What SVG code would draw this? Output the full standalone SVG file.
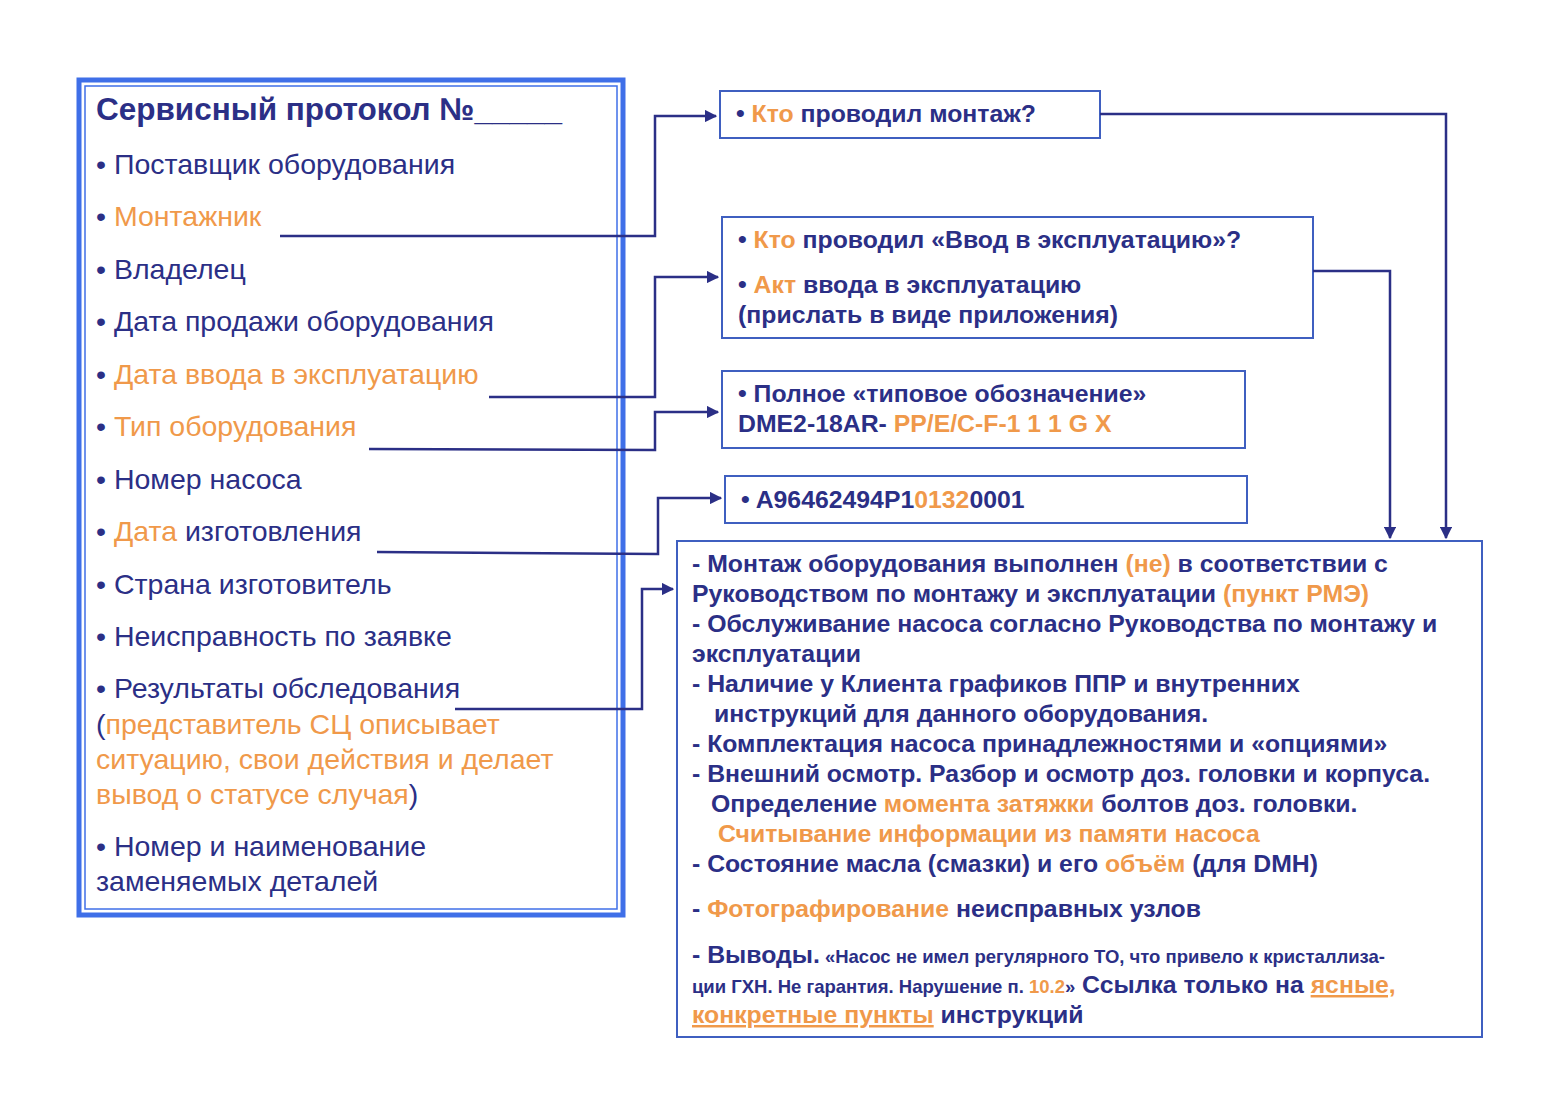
<svg xmlns="http://www.w3.org/2000/svg" width="1550" height="1100" viewBox="0 0 1550 1100">
<defs>
<style>
.t{font-family:"Liberation Sans",Arial,sans-serif;fill:#2b2f86}
.l{font-size:28.5px}
.b{font-size:24.8px;font-weight:bold}
.o{fill:#f0994a}
.box{fill:#fff;stroke:#3f5fc0;stroke-width:2}
.c{fill:none;stroke:#2b2f86;stroke-width:2.5}
</style>
<marker id="a" viewBox="0 0 10 10" refX="9" refY="5" markerWidth="5" markerHeight="5" orient="auto"><path d="M0,0L10,5L0,10z" fill="#2b2f86"/></marker>
</defs>
<rect width="1550" height="1100" fill="#fff"/>
<g id="protocol">
<rect x="79" y="80" width="544" height="835" fill="none" stroke="#3f6fe8" stroke-width="5"/>
<rect x="85" y="86" width="532" height="823" fill="none" stroke="#3f6fe8" stroke-width="1.5"/>
<text class="t" x="96" y="120" font-size="31.5" font-weight="bold">Сервисный протокол №_____</text>
<text class="t l" x="96" y="174">• Поставщик оборудования</text>
<text class="t l" x="96" y="226">• <tspan class="o">Монтажник</tspan></text>
<text class="t l" x="96" y="279">• Владелец</text>
<text class="t l" x="96" y="331">• Дата продажи оборудования</text>
<text class="t l" x="96" y="384">• <tspan class="o">Дата ввода в эксплуатацию</tspan></text>
<text class="t l" x="96" y="436">• <tspan class="o">Тип оборудования</tspan></text>
<text class="t l" x="96" y="489">• Номер насоса</text>
<text class="t l" x="96" y="541">• <tspan class="o">Дата</tspan> изготовления</text>
<text class="t l" x="96" y="594">• Страна изготовитель</text>
<text class="t l" x="96" y="646">• Неисправность по заявке</text>
<text class="t l" x="96" y="698">• Результаты обследования</text>
<text class="t l" x="96" y="734">(<tspan class="o">представитель СЦ описывает</tspan></text>
<text class="t l o" x="96" y="769">ситуацию, свои действия и делает</text>
<text class="t l" x="96" y="804"><tspan class="o">вывод о статусе случая</tspan>)</text>
<text class="t l" x="96" y="856">• Номер и наименование</text>
<text class="t l" x="96" y="891">заменяемых деталей</text>
</g>
<g id="q1"><rect class="box" x="720" y="91" width="380" height="47"/>
<text class="t b" x="736" y="122">• <tspan class="o">Кто</tspan> проводил монтаж?</text></g>
<g id="q2"><rect class="box" x="722" y="217" width="591" height="121"/>
<text class="t b" x="738" y="248">• <tspan class="o">Кто</tspan> проводил «Ввод в эксплуатацию»?</text>
<text class="t b" x="738" y="293">• <tspan class="o">Акт</tspan> ввода в эксплуатацию</text>
<text class="t b" x="738" y="323">(прислать в виде приложения)</text></g>
<g id="q3"><rect class="box" x="722" y="371" width="523" height="77"/>
<text class="t b" x="738" y="402">• Полное «типовое обозначение»</text>
<text class="t b" x="738" y="432">DME2-18AR- <tspan class="o">PP/E/C-F-1 1 1 G X</tspan></text></g>
<g id="q4"><rect class="box" x="725" y="476" width="522" height="47"/>
<text class="t b" x="741" y="508">• A96462494P1<tspan class="o">0132</tspan>0001</text></g>
<g id="results"><rect class="box" x="677" y="541" width="805" height="496"/>
<text class="t b" x="692" y="572">- Монтаж оборудования выполнен <tspan class="o">(не)</tspan> в соответствии с</text>
<text class="t b" x="692" y="602">Руководством по монтажу и эксплуатации <tspan class="o">(пункт РМЭ)</tspan></text>
<text class="t b" x="692" y="632">- Обслуживание насоса согласно Руководства по монтажу и</text>
<text class="t b" x="692" y="662">эксплуатации</text>
<text class="t b" x="692" y="692">- Наличие у Клиента графиков ППР и внутренних</text>
<text class="t b" x="714" y="722">инструкций для данного оборудования.</text>
<text class="t b" x="692" y="752">- Комплектация насоса принадлежностями и «опциями»</text>
<text class="t b" x="692" y="782">- Внешний осмотр. Разбор и осмотр доз. головки и корпуса.</text>
<text class="t b" x="711" y="812">Определение <tspan class="o">момента затяжки</tspan> болтов доз. головки.</text>
<text class="t b o" x="718" y="842">Считывание информации из памяти насоса</text>
<text class="t b" x="692" y="872">- Состояние масла (смазки) и его <tspan class="o">объём</tspan> (для DMH)</text>
<text class="t b" x="692" y="917">- <tspan class="o">Фотографирование</tspan> неисправных узлов</text>
<text class="t" x="692" y="963" font-weight="bold"><tspan font-size="24.8">- Выводы.</tspan><tspan font-size="18.5"> «Насос не имел регулярного ТО, что привело к кристаллиза-</tspan></text>
<text class="t" x="692" y="993" font-weight="bold"><tspan font-size="18.5">ции ГХН. Не гарантия. Нарушение п. <tspan class="o">10.2</tspan>»</tspan><tspan font-size="24.8">  Ссылка только на <tspan class="o" text-decoration="underline">ясные,</tspan></tspan></text>
<text class="t b" x="692" y="1023"><tspan class="o" text-decoration="underline">конкретные пункты</tspan> инструкций</text></g>
<g id="connectors">
<path class="c" d="M280,236H655V116H716" marker-end="url(#a)"/>
<path class="c" d="M489,397H655V277H718" marker-end="url(#a)"/>
<path class="c" d="M369,449L655,450V412H718" marker-end="url(#a)"/>
<path class="c" d="M377,552L658,554V498H721" marker-end="url(#a)"/>
<path class="c" d="M455,709H642V589H673" marker-end="url(#a)"/>
<path class="c" d="M1100,114H1446V538" marker-end="url(#a)"/>
<path class="c" d="M1313,271H1390V538" marker-end="url(#a)"/>
</g>
</svg>
